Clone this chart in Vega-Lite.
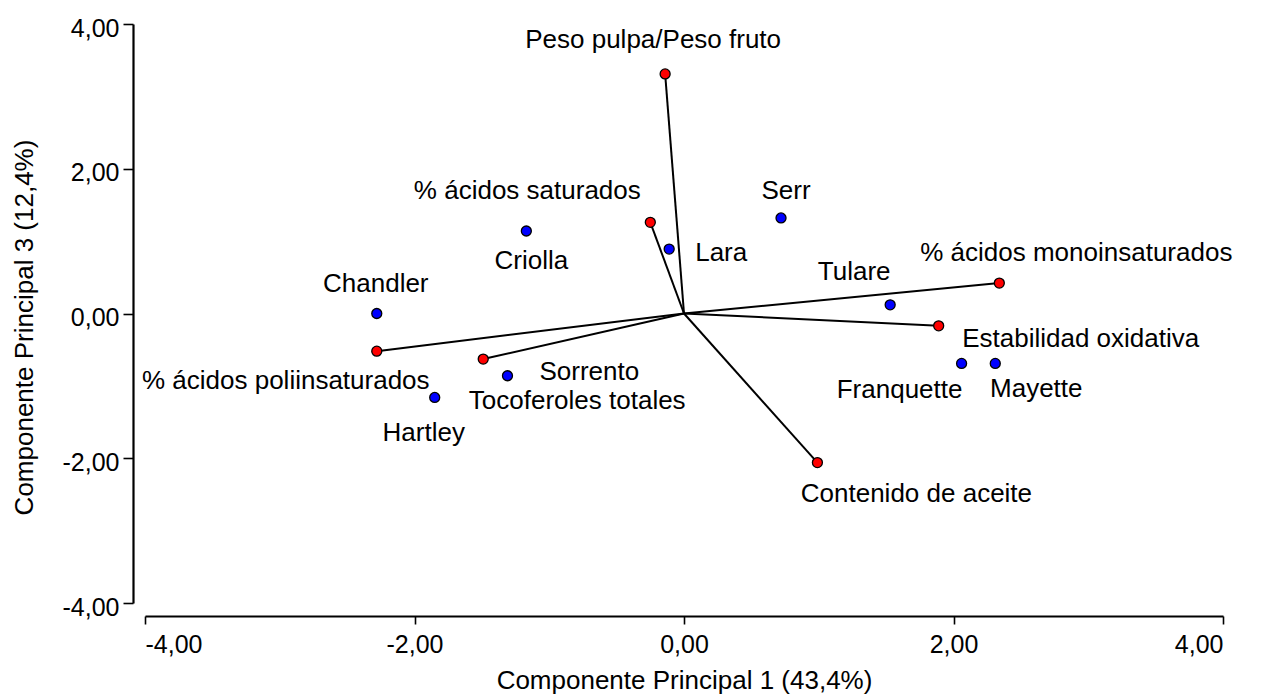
{
  "$schema": "https://vega.github.io/schema/vega-lite/v6.json",
  "autosize": {"type": "none"},
  "padding": {"left": 145, "top": 24, "right": 45, "bottom": 94},
  "width": 1078,
  "height": 579,
  "background": "white",
  "config": {
    "view": {"stroke": null},
    "font": "Liberation Sans",
    "axis": {
      "grid": false,
      "domainColor": "black",
      "domainWidth": 2.2,
      "tickColor": "black",
      "tickWidth": 1.6,
      "labelFont": "Liberation Sans",
      "labelFontSize": 25,
      "labelColor": "black",
      "titleFont": "Liberation Sans",
      "titleFontSize": 26,
      "titleFontWeight": "normal",
      "titleColor": "black"
    }
  },
  "data": {
    "values": [
      {"name": "Chandler", "type": "Cultivar", "x": -2.28, "y": 0.0},
      {"name": "Criolla", "type": "Cultivar", "x": -1.17, "y": 1.14},
      {"name": "Lara", "type": "Cultivar", "x": -0.11, "y": 0.89},
      {"name": "Serr", "type": "Cultivar", "x": 0.72, "y": 1.32},
      {"name": "Tulare", "type": "Cultivar", "x": 1.53, "y": 0.12},
      {"name": "Franquette", "type": "Cultivar", "x": 2.06, "y": -0.69},
      {"name": "Mayette", "type": "Cultivar", "x": 2.31, "y": -0.69},
      {"name": "Sorrento", "type": "Cultivar", "x": -1.31, "y": -0.86},
      {"name": "Hartley", "type": "Cultivar", "x": -1.85, "y": -1.16},
      {"name": "Peso pulpa/Peso fruto", "type": "Variable", "x": -0.14, "y": 3.31},
      {"name": "% ácidos saturados", "type": "Variable", "x": -0.25, "y": 1.26},
      {"name": "% ácidos monoinsaturados", "type": "Variable", "x": 2.34, "y": 0.42},
      {"name": "Estabilidad oxidativa", "type": "Variable", "x": 1.89, "y": -0.17},
      {"name": "Contenido de aceite", "type": "Variable", "x": 0.99, "y": -2.06},
      {"name": "Tocoferoles totales", "type": "Variable", "x": -1.49, "y": -0.63},
      {"name": "% ácidos poliinsaturados", "type": "Variable", "x": -2.28, "y": -0.52}
    ]
  },
  "encoding": {
    "x": {
      "field": "x", "type": "quantitative",
      "scale": {"domain": [-4, 4], "nice": false, "zero": false},
      "axis": {
        "title": "Componente Principal 1 (43,4%)",
        "values": [-4, -2, 0, 2, 4],
        "offset": 13,
        "tickSize": 8,
        "labelPadding": 8,
        "titlePadding": 10,
        "labelExpr": "(datum.value < 0 ? '-' : '') + replace(format(abs(datum.value), '.2f'), '.', ',')"
      }
    },
    "y": {
      "field": "y", "type": "quantitative",
      "scale": {"domain": [-4, 4], "nice": false, "zero": false},
      "axis": {
        "title": "Componente Principal 3 (12,4%)",
        "values": [-4, -2, 0, 2, 4],
        "offset": 12,
        "tickSize": 10,
        "labelPadding": 4,
        "labelOffset": 4,
        "titlePadding": 25,
        "titleY": 303,
        "labelExpr": "(datum.value < 0 ? '-' : '') + replace(format(abs(datum.value), '.2f'), '.', ',')"
      }
    }
  },
  "layer": [
    {
      "data": {"values": [{}]},
      "mark": {"type": "rule", "color": "#8c8c8c", "strokeWidth": 2},
      "encoding": {"x": {"datum": -4.09}, "x2": {"datum": 4}, "y": {"datum": 0}}
    },
    {
      "data": {"values": [{}]},
      "mark": {"type": "rule", "color": "#8c8c8c", "strokeWidth": 2},
      "encoding": {"x": {"datum": 0}, "y": {"datum": -4.18}, "y2": {"datum": 4}}
    },
    {
      "transform": [{"filter": "datum.type === 'Variable'"}],
      "mark": {"type": "rule", "color": "black", "strokeWidth": 2},
      "encoding": {"x2": {"datum": 0}, "y2": {"datum": 0}}
    },
    {
      "transform": [{"filter": "datum.name === 'Tocoferoles totales' || datum.name === 'Peso pulpa/Peso fruto'"}],
      "mark": {"type": "text", "fontSize": 26, "align": "center", "baseline": "middle", "fill": "white", "stroke": "white", "strokeWidth": 9, "strokeJoin": "round", "dx": {"expr": "datum.name === 'Tocoferoles totales' ? 94 : -12"}, "dy": {"expr": "datum.name === 'Tocoferoles totales' ? 42 : -34"}},
      "encoding": {"text": {"field": "name"}}
    },
    {"transform": [{"filter": "datum.name === 'Chandler'"}], "mark": {"type": "text", "fontSize": 26, "align": "center", "baseline": "middle", "color": "black", "dx": -1, "dy": -30}, "encoding": {"text": {"field": "name"}}},
    {"transform": [{"filter": "datum.name === 'Criolla'"}], "mark": {"type": "text", "fontSize": 26, "align": "center", "baseline": "middle", "color": "black", "dx": 5, "dy": 30}, "encoding": {"text": {"field": "name"}}},
    {"transform": [{"filter": "datum.name === 'Lara'"}], "mark": {"type": "text", "fontSize": 26, "align": "left", "baseline": "middle", "color": "black", "dx": 26, "dy": 4}, "encoding": {"text": {"field": "name"}}},
    {"transform": [{"filter": "datum.name === 'Serr'"}], "mark": {"type": "text", "fontSize": 26, "align": "center", "baseline": "middle", "color": "black", "dx": 5, "dy": -27}, "encoding": {"text": {"field": "name"}}},
    {"transform": [{"filter": "datum.name === 'Tulare'"}], "mark": {"type": "text", "fontSize": 26, "align": "center", "baseline": "middle", "color": "black", "dx": -36, "dy": -33}, "encoding": {"text": {"field": "name"}}},
    {"transform": [{"filter": "datum.name === 'Franquette'"}], "mark": {"type": "text", "fontSize": 26, "align": "center", "baseline": "middle", "color": "black", "dx": -62, "dy": 27}, "encoding": {"text": {"field": "name"}}},
    {"transform": [{"filter": "datum.name === 'Mayette'"}], "mark": {"type": "text", "fontSize": 26, "align": "center", "baseline": "middle", "color": "black", "dx": 41, "dy": 26}, "encoding": {"text": {"field": "name"}}},
    {"transform": [{"filter": "datum.name === 'Sorrento'"}], "mark": {"type": "text", "fontSize": 26, "align": "left", "baseline": "middle", "color": "black", "dx": 32, "dy": -4}, "encoding": {"text": {"field": "name"}}},
    {"transform": [{"filter": "datum.name === 'Hartley'"}], "mark": {"type": "text", "fontSize": 26, "align": "center", "baseline": "middle", "color": "black", "dx": -11, "dy": 36}, "encoding": {"text": {"field": "name"}}},
    {"transform": [{"filter": "datum.name === 'Peso pulpa/Peso fruto'"}], "mark": {"type": "text", "fontSize": 26, "align": "center", "baseline": "middle", "color": "black", "dx": -12, "dy": -34}, "encoding": {"text": {"field": "name"}}},
    {"transform": [{"filter": "datum.name === '% ácidos saturados'"}], "mark": {"type": "text", "fontSize": 26, "align": "center", "baseline": "middle", "color": "black", "dx": -123, "dy": -31}, "encoding": {"text": {"field": "name"}}},
    {"transform": [{"filter": "datum.name === '% ácidos monoinsaturados'"}], "mark": {"type": "text", "fontSize": 26, "align": "center", "baseline": "middle", "color": "black", "dx": 77, "dy": -30}, "encoding": {"text": {"field": "name"}}},
    {"transform": [{"filter": "datum.name === 'Estabilidad oxidativa'"}], "mark": {"type": "text", "fontSize": 26, "align": "center", "baseline": "middle", "color": "black", "dx": 142, "dy": 13}, "encoding": {"text": {"field": "name"}}},
    {"transform": [{"filter": "datum.name === 'Contenido de aceite'"}], "mark": {"type": "text", "fontSize": 26, "align": "center", "baseline": "middle", "color": "black", "dx": 99, "dy": 31}, "encoding": {"text": {"field": "name"}}},
    {"transform": [{"filter": "datum.name === 'Tocoferoles totales'"}], "mark": {"type": "text", "fontSize": 26, "align": "center", "baseline": "middle", "color": "black", "dx": 94, "dy": 42}, "encoding": {"text": {"field": "name"}}},
    {"transform": [{"filter": "datum.name === '% ácidos poliinsaturados'"}], "mark": {"type": "text", "fontSize": 26, "align": "center", "baseline": "middle", "color": "black", "dx": -91, "dy": 30}, "encoding": {"text": {"field": "name"}}},
    {
      "mark": {"type": "point", "shape": "circle", "filled": true, "size": 100, "stroke": "black", "strokeWidth": 1.3, "opacity": 1},
      "encoding": {
        "fill": {"field": "type", "type": "nominal", "scale": {"domain": ["Cultivar", "Variable"], "range": ["#0000ff", "#ff0000"]}, "legend": null}
      }
    }
  ]
}
